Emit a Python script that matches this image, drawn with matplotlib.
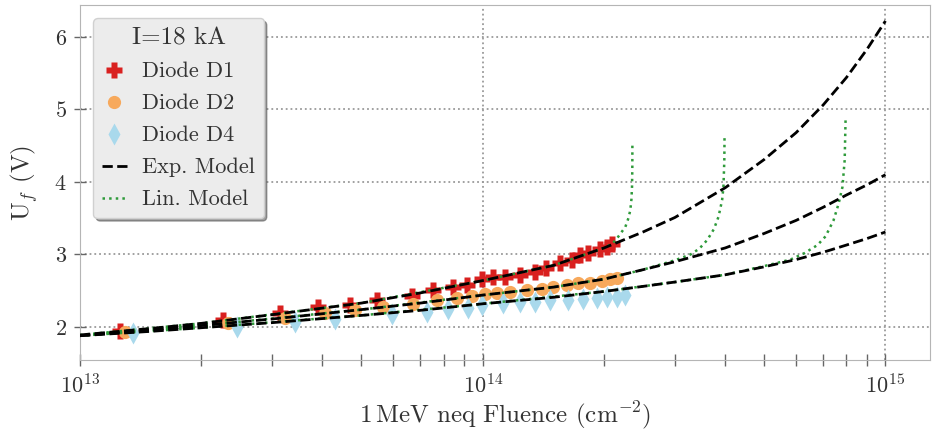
import matplotlib
matplotlib.use("Agg")
import matplotlib.pyplot as plt
from matplotlib.ticker import LogLocator, NullFormatter

# measured forward voltage vs fluence (I = 18 kA)
fluence_d1 = [1.26e13, 2.27e13, 3.14e13, 3.90e13, 4.69e13, 5.47e13, 6.68e13, 7.53e13,
              8.45e13, 9.15e13, 9.97e13, 1.062e14, 1.137e14, 1.240e14, 1.350e14, 1.438e14,
              1.558e14, 1.669e14, 1.747e14, 1.829e14, 1.958e14, 2.039e14, 2.097e14]
uf_d1 = [1.94, 2.10, 2.19, 2.28, 2.31, 2.37, 2.43, 2.51, 2.55, 2.58, 2.66, 2.69, 2.69,
         2.72, 2.76, 2.81, 2.88, 2.93, 2.99, 3.02, 3.07, 3.10, 3.14]

fluence_d2 = [1.294e13, 2.332e13, 3.231e13, 4.061e13, 4.823e13, 5.658e13, 6.72e13, 7.71e13,
              8.64e13, 9.42e13, 1.015e14, 1.086e14, 1.170e14, 1.290e14, 1.405e14, 1.497e14,
              1.622e14, 1.727e14, 1.850e14, 1.981e14, 2.074e14, 2.159e14]
uf_d2 = [1.93, 2.06, 2.12, 2.19, 2.23, 2.28, 2.32, 2.37, 2.40, 2.43, 2.45, 2.47, 2.48,
         2.51, 2.52, 2.55, 2.58, 2.60, 2.61, 2.63, 2.66, 2.68]

fluence_d4 = [1.354e13, 2.455e13, 3.42e13, 4.30e13, 5.96e13, 7.28e13, 8.21e13, 9.20e13,
              9.97e13, 1.124e14, 1.240e14, 1.350e14, 1.472e14, 1.631e14, 1.777e14, 1.925e14,
              2.039e14, 2.159e14, 2.259e14]
uf_d4 = [1.92, 2.00, 2.07, 2.11, 2.18, 2.21, 2.25, 2.26, 2.30, 2.33, 2.34, 2.35, 2.37,
         2.37, 2.39, 2.40, 2.41, 2.42, 2.44]

# exponential model
model_fluence = [1e13, 1.5e13, 2e13, 3e13, 5e13, 7e13, 1e14, 1.5e14, 2e14, 2.5e14, 3e14,
                 4e14, 5e14, 6e14, 7e14, 8e14, 9e14, 1e15]
exp_d1 = [1.89, 1.98, 2.05, 2.17, 2.33, 2.47, 2.64, 2.85, 3.09, 3.31, 3.51,
          3.92, 4.31, 4.68, 5.06, 5.44, 5.83, 6.22]
exp_d2 = [1.88, 1.96, 2.02, 2.11, 2.24, 2.33, 2.44, 2.55, 2.66, 2.79, 2.90,
          3.09, 3.29, 3.47, 3.65, 3.82, 3.96, 4.10]
exp_d4 = [1.88, 1.94, 1.99, 2.06, 2.16, 2.23, 2.32, 2.41, 2.49, 2.56, 2.62,
          2.72, 2.83, 2.93, 3.03, 3.13, 3.22, 3.31]

# linear model
lin_f_d1 = [1e13, 2e13, 5e13, 1e14, 1.5e14, 2e14, 2.10e14, 2.16e14, 2.26e14, 2.30e14,
            2.325e14, 2.34e14, 2.348e14, 2.352e14, 2.353e14]
lin_d1 = [1.89, 2.05, 2.33, 2.64, 2.85, 3.09, 3.15, 3.23, 3.38, 3.50, 3.61, 3.76, 3.93, 4.20, 4.55]
lin_f_d2 = [1e13, 2e13, 5e13, 1e14, 1.5e14, 2e14, 2.5e14, 3.0e14, 3.28e14, 3.45e14, 3.61e14,
            3.75e14, 3.85e14, 3.93e14, 3.96e14, 3.98e14, 3.985e14]
lin_d2 = [1.88, 2.02, 2.24, 2.44, 2.55, 2.66, 2.79, 2.92, 3.00, 3.08, 3.20, 3.35, 3.52,
          3.75, 3.93, 4.30, 4.65]
lin_f_d4 = [1e13, 2e13, 5e13, 1e14, 2e14, 3e14, 4e14, 5e14, 5.81e14, 6.3e14, 6.78e14,
            7.1e14, 7.43e14, 7.65e14, 7.82e14, 7.92e14, 7.96e14]
lin_d4 = [1.88, 1.99, 2.16, 2.32, 2.49, 2.62, 2.72, 2.84, 2.93, 3.02, 3.13, 3.25, 3.47,
          3.70, 3.93, 4.30, 4.85]

plt.rcParams['font.family'] = 'serif'
plt.rcParams['font.serif'] = ['cmr10']
plt.rcParams['mathtext.fontset'] = 'cm'
plt.rcParams['axes.formatter.use_mathtext'] = True
plt.rcParams['axes.unicode_minus'] = False

fig = plt.figure(figsize=(9.34, 4.34), dpi=100)
ax = fig.add_axes([80 / 934, 1 - 360 / 434, 850 / 934, 355 / 434])

ax.plot(fluence_d1, uf_d1, 'P', color='#d9201f', ms=11, mec='none', label='Diode D1', zorder=3)
ax.plot(fluence_d2, uf_d2, 'o', color='#f7a95c', ms=9.5, mec='none', label='Diode D2', zorder=3)
ax.plot(fluence_d4, uf_d4, 'd', color='#a9d9ec', ms=11, mec='none', label='Diode D4', zorder=3)

ax.plot(lin_f_d1, lin_d1, ':', color='#2e9a3a', lw=1.8, zorder=4)
ax.plot(lin_f_d2, lin_d2, ':', color='#2e9a3a', lw=1.8, zorder=4)
ax.plot(lin_f_d4, lin_d4, ':', color='#2e9a3a', lw=1.8, zorder=4, label='Lin. Model')

ax.plot(model_fluence, exp_d1, '--', color='black', lw=2, zorder=5, label='Exp. Model')
ax.plot(model_fluence, exp_d2, '--', color='black', lw=2, zorder=5)
ax.plot(model_fluence, exp_d4, '--', color='black', lw=2, zorder=5)

ax.set_xscale('log')
ax.set_xlim(1e13, 1.29e15)
ax.set_ylim(1.545, 6.44)
ax.set_yticks([2, 3, 4, 5, 6])
ax.xaxis.set_minor_locator(LogLocator(base=10, subs=range(2, 10)))
ax.xaxis.set_minor_formatter(NullFormatter())

ax.grid(True, which='major', linestyle=':', color='#9a9a9a', lw=1.3)
for s in ax.spines.values():
    s.set_color('#b5b5b5')
ax.tick_params(which='major', direction='inout', length=9, width=1, color='#666666',
               labelsize=16, labelcolor='#333333', pad=5)
ax.tick_params(which='minor', direction='inout', length=9, width=1, color='#666666')

ax.set_xlabel(r'1$\,$MeV neq Fluence (cm$^{-2}$)', fontsize=18, color='#333333', labelpad=1)
ax.set_ylabel(r'U$_f$ (V)', fontsize=18, color='#333333', labelpad=10)

h, l = ax.get_legend_handles_labels()
order = [0, 1, 2, 4, 3]
leg = ax.legend([h[i] for i in order], [l[i] for i in order], loc='upper left',
                title='I=18 kA', fontsize=16, title_fontsize=18, numpoints=1,
                handlelength=1.1, handletextpad=0.7, labelspacing=0.56,
                fancybox=True, shadow=True, framealpha=1, borderaxespad=0.6)
leg.get_frame().set_facecolor('#ececec')
leg.get_frame().set_edgecolor('#d0d0d0')
for t in leg.get_texts():
    t.set_color('#333333')
leg.get_title().set_color('#333333')

fig.savefig('out.png', dpi=100)
